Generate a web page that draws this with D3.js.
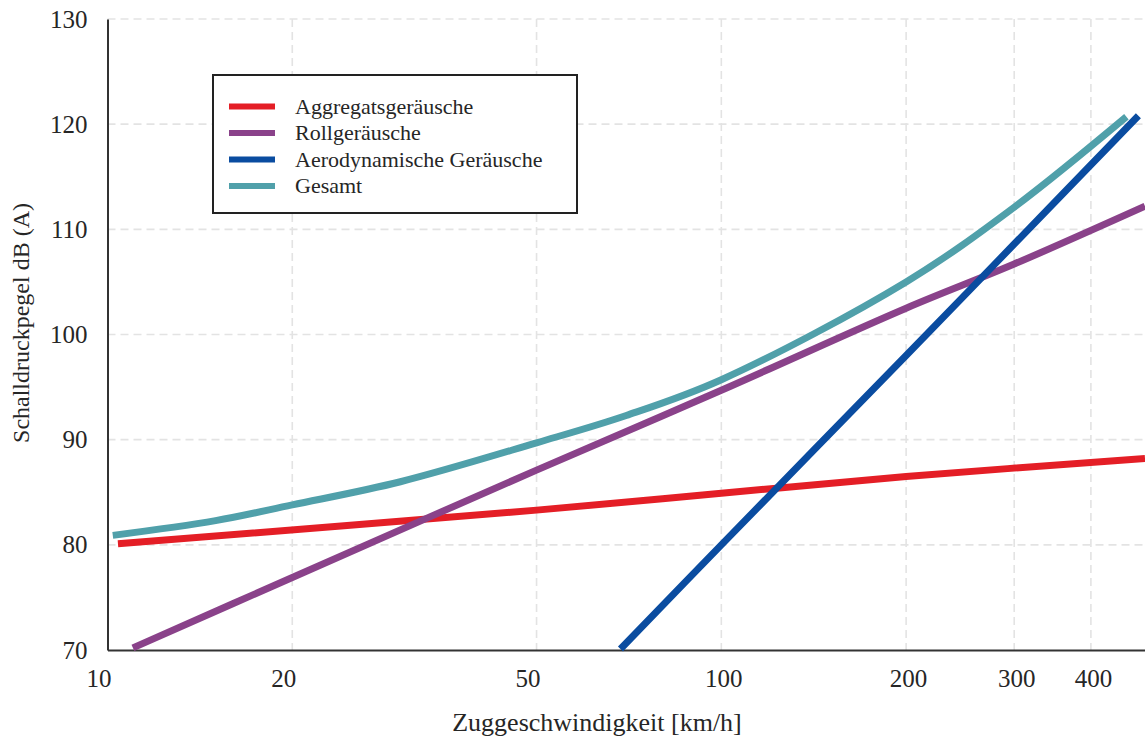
<!DOCTYPE html>
<html lang="de">
<head>
    <meta charset="UTF-8">
    <title>Schalldruckpegel vs Zuggeschwindigkeit</title>
    <script src="https://d3js.org/d3.v7.min.js"></script>
    <style>
        body { margin: 0; background: #fff; }
        text { font-family: "Liberation Serif", "DejaVu Serif", serif; fill: #262626; }
    </style>
</head>
<body>
    <div id="chart"></div>

    <script>
        // Values (speed in km/h, level in dB(A))
        const speedAggregat = [10.4, 50, 100, 200, 490];
        const dbAggregat    = [80.1, 83.3, 84.9, 86.5, 88.2];

        const speedRoll = [11, 20, 50, 100, 200, 300, 490];
        const dbRoll    = [70.2, 76.9, 87.1, 94.7, 102.5, 106.7, 112.2];

        const speedAero = [68.5, 100, 200, 300, 478];
        const dbAero    = [70.1, 80, 98, 108.6, 120.8];

        const speedGesamt = [10.2, 15, 20, 30, 50, 70, 100, 200, 300, 457];
        const dbGesamt    = [80.9, 82.3, 83.8, 86.0, 89.7, 92.3, 95.7, 105.0, 112.1, 120.7];

        const seriesNames  = ["Aggregatsgeräusche", "Rollgeräusche", "Aerodynamische Geräusche", "Gesamt"];
        const seriesColors = ["#e41e26", "#8a428a", "#0a4ca0", "#50a0aa"];

        const xTicks = [10, 20, 50, 100, 200, 300, 400];
        const yTicks = [70, 80, 90, 100, 110, 120, 130];

        const series = [
            [speedAggregat, dbAggregat],
            [speedRoll, dbRoll],
            [speedAero, dbAero],
            [speedGesamt, dbGesamt]
        ].map(([sx, sy], i) => ({
            name: seriesNames[i],
            color: seriesColors[i],
            values: sx.map((s, j) => ({ speed: s, db: sy[j] }))
        }));

        const W = 1145, H = 740;
        const plot = { left: 107.5, right: 1145, top: 19, bottom: 650 };

        const svg = d3.select("#chart")
            .append("svg")
            .attr("width", W)
            .attr("height", H);

        const x = d3.scaleLog().domain([10, 490]).range([plot.left, plot.right]);
        const y = d3.scaleLinear().domain([70, 130]).range([plot.bottom, plot.top]);

        // grid
        svg.append("g")
            .selectAll("line")
            .data(xTicks.slice(1))
            .join("line")
            .attr("x1", d => x(d)).attr("x2", d => x(d))
            .attr("y1", plot.top).attr("y2", plot.bottom)
            .attr("stroke", "#e3e3e3")
            .attr("stroke-width", 1.6)
            .attr("stroke-dasharray", "8,5");

        svg.append("g")
            .selectAll("line")
            .data(yTicks.slice(1))
            .join("line")
            .attr("x1", plot.left).attr("x2", plot.right)
            .attr("y1", d => y(d)).attr("y2", d => y(d))
            .attr("stroke", "#e3e3e3")
            .attr("stroke-width", 1.6)
            .attr("stroke-dasharray", "8,5");

        // axes
        const xAxis = svg.append("g")
            .attr("transform", `translate(0,${plot.bottom})`)
            .call(d3.axisBottom(x).tickValues(xTicks).tickFormat(d3.format("d")).tickSize(0).tickPadding(19));
        xAxis.select(".domain").attr("stroke", "#333").attr("stroke-width", 2);
        // the low labels sit a little left of their grid line in the original
        xAxis.selectAll("text")
            .style("font-size", "25px")
            .attr("fill", "#262626")
            .attr("dx", d => d < 100 ? -9 : 2);

        const yAxis = svg.append("g")
            .attr("transform", `translate(${plot.left},0)`)
            .call(d3.axisLeft(y).tickValues(yTicks).tickSize(0).tickPadding(20));
        yAxis.select(".domain").attr("stroke", "#333").attr("stroke-width", 2);
        yAxis.selectAll("text").style("font-size", "25px").attr("fill", "#262626");

        // axis titles
        svg.append("text")
            .attr("x", 597)
            .attr("y", 731)
            .attr("text-anchor", "middle")
            .style("font-size", "26px")
            .text("Zuggeschwindigkeit [km/h]");

        svg.append("text")
            .attr("transform", "rotate(-90)")
            .attr("x", -323)
            .attr("y", 29)
            .attr("text-anchor", "middle")
            .style("font-size", "24px")
            .text("Schalldruckpegel dB (A)");

        // lines
        const line = d3.line()
            .x(d => x(d.speed))
            .y(d => y(d.db))
            .curve(d3.curveCatmullRom.alpha(0.5));

        svg.append("g")
            .selectAll("path")
            .data(series)
            .join("path")
            .attr("d", d => line(d.values))
            .attr("fill", "none")
            .attr("stroke", d => d.color)
            .attr("stroke-width", 7);

        // legend
        const legend = svg.append("g");
        legend.append("rect")
            .attr("x", 213).attr("y", 75)
            .attr("width", 364).attr("height", 138)
            .attr("fill", "#fff")
            .attr("stroke", "#222")
            .attr("stroke-width", 2);

        const item = legend.selectAll("g.item")
            .data(series)
            .join("g")
            .attr("class", "item")
            .attr("transform", (d, i) => `translate(0,${106.5 + i * 26.5})`);

        item.append("line")
            .attr("x1", 229).attr("x2", 275)
            .attr("stroke", d => d.color)
            .attr("stroke-width", 6);

        item.append("text")
            .attr("x", 295)
            .attr("dy", "0.33em")
            .style("font-size", "22px")
            .text(d => d.name);
    </script>
</body>
</html>
